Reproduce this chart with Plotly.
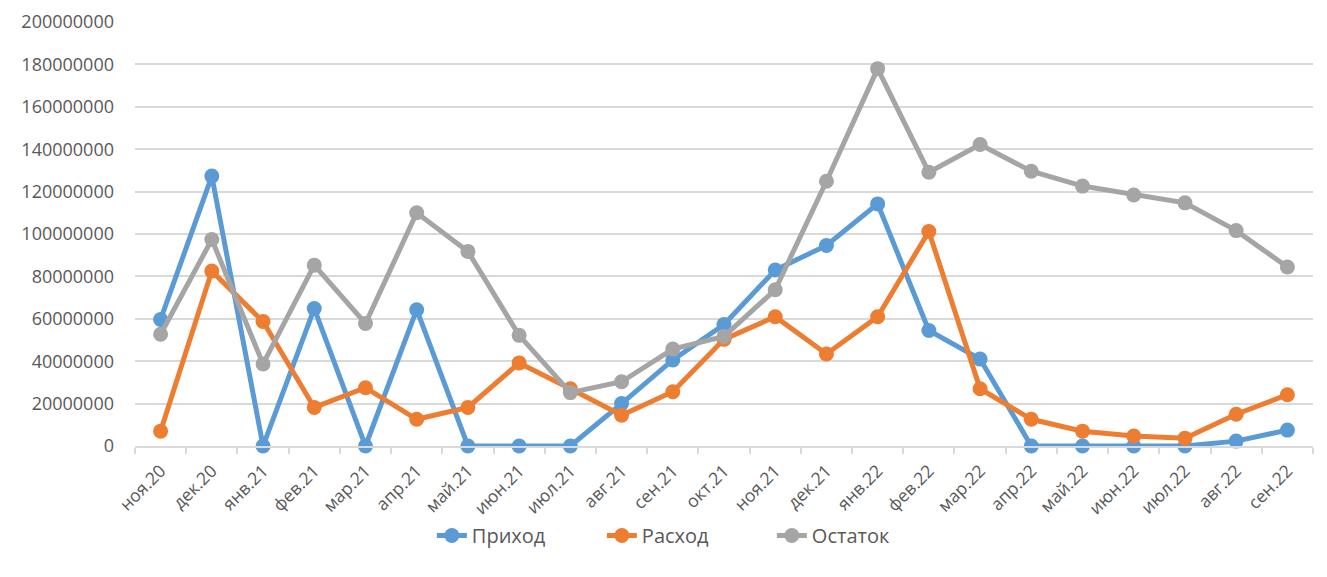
import plotly.graph_objects as go

categories = ["ноя.20", "дек.20", "янв.21", "фев.21", "мар.21", "апр.21", "май.21", "июн.21",
              "июл.21", "авг.21", "сен.21", "окт.21", "ноя.21", "дек.21", "янв.22", "фев.22",
              "мар.22", "апр.22", "май.22", "июн.22", "июл.22", "авг.22", "сен.22"]

prihod = [59.7e6, 127.3e6, 0, 64.8e6, 0, 64.3e6, 0, 0, 0, 20.0e6, 40.6e6, 57.3e6, 83.0e6,
          94.6e6, 114.2e6, 54.5e6, 41.0e6, 0, 0, 0, 0, 2.3e6, 7.5e6]
rashod = [7.0e6, 82.5e6, 58.7e6, 18.2e6, 27.5e6, 12.6e6, 18.2e6, 39.2e6, 27.0e6, 14.5e6,
          25.6e6, 50.3e6, 61.0e6, 43.4e6, 61.0e6, 101.2e6, 27.0e6, 12.6e6, 7.0e6, 4.7e6,
          3.7e6, 15.0e6, 24.2e6]
ostatok = [52.7e6, 97.4e6, 38.7e6, 85.3e6, 57.8e6, 110.0e6, 91.8e6, 52.2e6, 25.2e6, 30.3e6,
           45.7e6, 51.7e6, 73.7e6, 124.9e6, 178.0e6, 129.1e6, 142.2e6, 129.6e6, 122.6e6,
           118.4e6, 114.7e6, 101.6e6, 84.4e6]

series = [("Приход", prihod, "#5B9BD5"), ("Расход", rashod, "#ED7D31"), ("Остаток", ostatok, "#A5A5A5")]

fig = go.Figure()
for name, vals, color in series:
    fig.add_trace(go.Scatter(x=categories, y=vals, name=name, mode="lines+markers",
                             line=dict(color=color, width=5),
                             marker=dict(color=color, size=15),
                             cliponaxis=False))

font_family = "Open Sans, Liberation Sans, sans-serif"
tick_vals = list(range(0, 200000001, 20000000))
fig.update_layout(
    width=1327, height=577,
    margin=dict(l=127, r=22, t=14, b=139, autoexpand=False),
    plot_bgcolor="white", paper_bgcolor="white",
    font=dict(family=font_family, size=16, color="#595959"),
    showlegend=True,
    legend=dict(orientation="h", x=0.252, xanchor="left", y=-0.165, yanchor="top",
                font=dict(size=20, color="#595959"), entrywidth=125, entrywidthmode="pixels",
                tracegroupgap=0),
    xaxis=dict(type="category", tickangle=-45, tickson="boundaries", ticks="outside",
               ticklen=6, tickcolor="#D9D9D9", tickwidth=1.5, showline=True, linecolor="#D9D9D9",
               linewidth=1.5, showgrid=False, tickfont=dict(size=17.5, color="#595959"),
               ticklabelstandoff=6, ticklabeloverflow="allow",
               range=[-0.5, len(categories) - 0.5], automargin=False),
    yaxis=dict(range=[0, 200000000], tickvals=tick_vals, ticktext=[str(v) for v in tick_vals],
               showgrid=True, gridcolor="#D9D9D9", gridwidth=1.5, zeroline=False,
               ticks="", tickfont=dict(size=18, color="#595959"), ticklabelstandoff=20,
               ticklabeloverflow="allow", automargin=False),
)

fig.write_html("out.html")
